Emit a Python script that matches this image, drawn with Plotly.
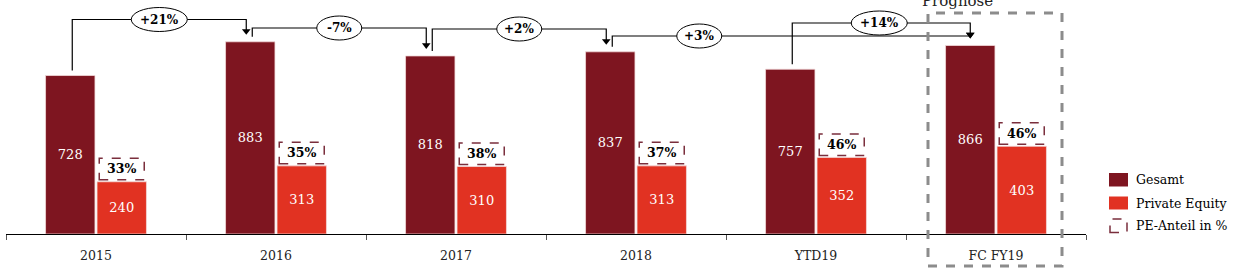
import plotly.graph_objects as go

# ---------------- data ----------------
categories = ["2015", "2016", "2017", "2018", "YTD19", "FC FY19"]
gesamt = [728, 883, 818, 837, 757, 866]
private_equity = [240, 313, 310, 313, 352, 403]
pe_share = ["33%", "35%", "38%", "37%", "46%", "46%"]
growth_from = [0, 1, 2, 3, 4]
growth_to = [1, 2, 3, 5, 5]
growth_labels = ["+21%", "-7%", "+2%", "+3%", "+14%"]
legend_names = ["Gesamt", "Private Equity", "PE-Anteil in %"]
forecast_title = "Prognose"

# ---------------- layout / style ----------------
W, H = 1236, 272
ML, MR, MT, MB = 6, 150, 0, 38
PW, PH = W - ML - MR, H - MT - MB
YMAX = 1075
N = len(categories)
UNIT = PW / N
BARGAP = 0.428
OFF = (1 - BARGAP) / 4  # bar centre offset from category centre

C_GES = "#7E1520"
C_PE = "#E13222"
C_BOX = "#7A2E3C"
C_PROG = "#8C8C8C"
FONT = "DejaVu Serif"
bracket_levels_px = [19.5, 28, 29, 36, 23]


def y_px(v):
    return MT + PH * (1 - v / YMAX)


def px_y(p):
    return YMAX * (1 - (p - MT) / PH)


def px_paper_x(p):
    return (p - ML) / PW


def px_paper_y(p):
    return (MT + PH - p) / PH


xs = list(range(N))

fig = go.Figure()
fig.add_trace(go.Bar(
    x=xs, y=gesamt, name=legend_names[0], marker=dict(color=C_GES, line=dict(color="#F3DADA", width=0.8)),
    text=[str(v) for v in gesamt], textposition="inside", insidetextanchor="middle",
    textangle=0, constraintext="none",
    textfont=dict(family=FONT, size=13, color="white"), hoverinfo="skip"))
fig.add_trace(go.Bar(
    x=xs, y=private_equity, name=legend_names[1], marker=dict(color=C_PE, line=dict(color="#F3DADA", width=0.8)),
    text=[str(v) for v in private_equity], textposition="inside", insidetextanchor="middle",
    textangle=0, constraintext="none",
    textfont=dict(family=FONT, size=13, color="white"), hoverinfo="skip"))

shapes = []
annotations = []

# PE share boxes
for i, (v, s) in enumerate(zip(private_equity, pe_share)):
    shapes.append(dict(type="rect", xref="x", yref="y", xsizemode="pixel", ysizemode="pixel",
                       xanchor=i + OFF, yanchor=v, x0=-22.5, x1=22.5, y0=2, y1=23.5,
                       line=dict(color=C_BOX, width=1.5, dash="dash"), fillcolor="white", layer="above"))
    annotations.append(dict(x=i + OFF, y=v, xref="x", yref="y", text="<b>%s</b>" % s, showarrow=False,
                            yanchor="middle", yshift=13, font=dict(family=FONT, size=12.5, color="black")))

# growth brackets
for k, (a, b, lab) in enumerate(zip(growth_from, growth_to, growth_labels)):
    lvl = bracket_levels_px[k]
    sx = a - OFF + 2 / UNIT
    ex = b - OFF + ((-4 / UNIT) if b != N - 1 else 0)
    next_x = (a + 1) - OFF - 4 / UNIT  # label sits between the bar and its neighbour
    start_px = y_px(gesamt[a]) - 5
    tip_px = y_px(gesamt[b]) - 7
    r = 3.75
    fig.add_trace(go.Scatter(
        x=[sx, sx, ex, ex], y=[px_y(start_px), px_y(lvl), px_y(lvl), px_y(tip_px - r)],
        mode="lines", line=dict(color="black", width=1.2), hoverinfo="skip", showlegend=False))
    fig.add_trace(go.Scatter(
        x=[ex], y=[px_y(tip_px - r)], mode="markers",
        marker=dict(symbol="triangle-down", size=7.5, color="black"), hoverinfo="skip", showlegend=False))
    mid = (sx + next_x) / 2
    w = 11 * len(lab) + 12
    shapes.append(dict(type="circle", xref="x", yref="y", xsizemode="pixel", ysizemode="pixel",
                       xanchor=mid, yanchor=px_y(lvl), x0=-w / 2, x1=w / 2, y0=-12, y1=12,
                       line=dict(color="black", width=1), fillcolor="white", layer="above"))
    annotations.append(dict(x=mid, y=px_y(lvl), xref="x", yref="y", text="<b>%s</b>" % lab, showarrow=False,
                            font=dict(family=FONT, size=12, color="black")))

# Prognose frame
fc = N - 1
cx = ML + (fc + 0.5) * UNIT
shapes.append(dict(type="rect", xref="paper", yref="paper",
                   x0=px_paper_x(cx - 68), x1=px_paper_x(cx + 66),
                   y0=px_paper_y(266), y1=px_paper_y(13),
                   line=dict(color=C_PROG, width=3, dash="dash"), layer="above"))
annotations.append(dict(x=px_paper_x(cx - 1), y=px_paper_y(1), xref="paper", yref="paper",
                        text=forecast_title, showarrow=False, yanchor="middle",
                        font=dict(family=FONT, size=15, color="#222")))

# manual legend
leg_x0, leg_x1 = 1109, 1128
leg_rows = [(173, 186.5), (196.5, 209.5), (219, 232.5)]
for n, (name, (t, btm)) in enumerate(zip(legend_names, leg_rows)):
    if n < 2:
        shapes.append(dict(type="rect", xref="paper", yref="paper",
                           x0=px_paper_x(leg_x0), x1=px_paper_x(leg_x1),
                           y0=px_paper_y(btm), y1=px_paper_y(t),
                           line=dict(width=0), fillcolor=[C_GES, C_PE][n]))
    else:
        shapes.append(dict(type="rect", xref="paper", yref="paper",
                           x0=px_paper_x(leg_x0 + 1), x1=px_paper_x(leg_x1 - 1),
                           y0=px_paper_y(btm), y1=px_paper_y(t),
                           line=dict(width=1.5, color=C_BOX, dash="dash")))
    annotations.append(dict(x=px_paper_x(1134), y=px_paper_y((t + btm) / 2), xref="paper", yref="paper",
                            text=name, showarrow=False, xanchor="left", yanchor="middle",
                            font=dict(family=FONT, size=12.5, color="black")))

bounds = [i - 0.5 for i in range(N + 1)]
fig.update_layout(
    width=W, height=H, margin=dict(l=ML, r=MR, t=MT, b=MB),
    paper_bgcolor="white", plot_bgcolor="white",
    barmode="group", bargap=BARGAP, bargroupgap=0.04,
    showlegend=False, shapes=shapes, annotations=annotations,
    xaxis=dict(range=[-0.5, N - 0.5], tickmode="array", tickvals=xs, ticktext=categories,
               ticks="", showgrid=False, zeroline=False, showline=True, linecolor="black", linewidth=1.3,
               tickfont=dict(family=FONT, size=12.5, color="#222"), ticklabelstandoff=10,
               minor=dict(tickmode="array", tickvals=bounds, ticks="outside", ticklen=5,
                          tickcolor="#555", tickwidth=1.2, showgrid=False)),
    yaxis=dict(range=[0, YMAX], visible=False, showgrid=False, zeroline=False),
)

fig.write_html("out.html")
